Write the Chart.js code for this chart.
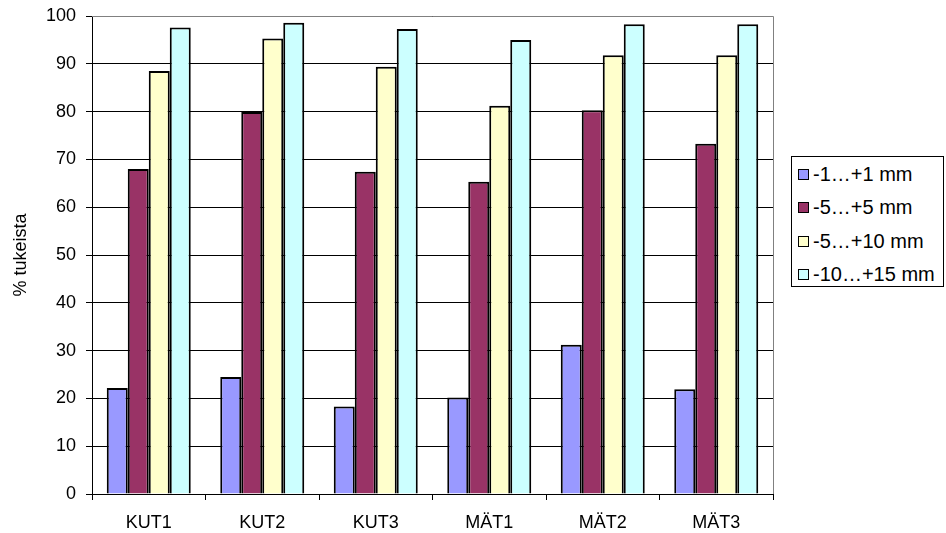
<!DOCTYPE html>
<html>
<head>
<meta charset="utf-8">
<script src="https://cdn.jsdelivr.net/npm/chart.js@4"></script>
<style>
  body { margin: 0; background: #fff; }
  #wrap { position: relative; width: 946px; height: 533px; }
  #legend {
    position: absolute; left: 791px; top: 156px; width: 153px; height: 131px;
    box-sizing: border-box; border: 1px solid #000; background: #fff;
    font-family: "Liberation Sans", Arial, sans-serif; font-size: 20px; color: #000;
    padding: 1px 0 0 6px;
  }
  .item { height: 33.3px; display: flex; align-items: center; white-space: nowrap; }
  .swatch { width: 9px; height: 9px; border: 1px solid #000; margin-right: 4px; }
</style>
</head>
<body>
<div id="wrap">
  <canvas id="chart" width="946" height="533"></canvas>
  <div id="legend"></div>
</div>
<script>
const categories = ["KUT1", "KUT2", "KUT3", "MÄT1", "MÄT2", "MÄT3"];
const seriesNames = ["-1…+1 mm", "-5…+5 mm", "-5…+10 mm", "-10…+15 mm"];
const seriesColors = ["#9999FF", "#993366", "#FFFFCC", "#CCFFFF"];

const range1 = [22.2, 24.5, 18.3, 20.2, 31.2, 21.9];
const range5 = [68.0, 79.9, 67.4, 65.3, 80.3, 73.3];
const range10 = [88.5, 95.3, 89.4, 81.2, 91.8, 91.8];
const range15 = [97.6, 98.6, 97.3, 95.0, 98.3, 98.3];

const yTicks = [0, 10, 20, 30, 40, 50, 60, 70, 80, 90, 100];

const seriesValues = [range1, range5, range10, range15];
const font = { family: "'Liberation Sans', Arial, sans-serif", size: 18 };

// gray frame on the top and right edge of the plot
const frame = {
  id: "frame",
  afterDraw(chart) {
    const { ctx, chartArea: a } = chart;
    ctx.save();
    ctx.strokeStyle = "#808080";
    ctx.lineWidth = 1;
    ctx.beginPath();
    ctx.moveTo(a.left, a.top + 0.5);
    ctx.lineTo(a.right + 0.5, a.top + 0.5);
    ctx.lineTo(a.right + 0.5, a.bottom);
    ctx.stroke();
    ctx.restore();
  },
};

new Chart(document.getElementById("chart"), {
  type: "bar",
  data: {
    labels: categories,
    datasets: seriesNames.map((name, i) => ({
      label: name,
      data: seriesValues[i],
      backgroundColor: seriesColors[i],
      borderColor: "#000",
      borderWidth: 2,
      borderSkipped: "bottom",
      barPercentage: 1,
      categoryPercentage: 0.74,
    })),
  },
  options: {
    responsive: false,
    animation: false,
    layout: { padding: { top: 16, right: 173, left: 0, bottom: 0 } },
    plugins: { legend: { display: false }, tooltip: { enabled: false } },
    scales: {
      x: {
        grid: { offset: true, drawOnChartArea: false, color: "#000", tickLength: 6 },
        border: { color: "#000" },
        ticks: { color: "#000", font, padding: 12 },
        afterFit: (s) => { s.height = 39; },
      },
      y: {
        min: 0,
        max: 100,
        afterBuildTicks: (s) => { s.ticks = yTicks.map((v) => ({ value: v })); },
        grid: { color: "#000", tickLength: 6 },
        border: { color: "#000" },
        ticks: { color: "#000", font, padding: 10 },
        title: { display: true, text: "% tukeista", color: "#000", font, padding: { top: 10, bottom: 0 } },
        afterFit: (s) => {
          s.width = 92;
          s.paddingTop = 0;
          s.paddingBottom = 0;
        },
      },
    },
  },
  plugins: [frame],
});

const legend = document.getElementById("legend");
seriesNames.forEach((name, i) => {
  const item = document.createElement("div");
  item.className = "item";
  item.innerHTML = `<span class="swatch" style="background:${seriesColors[i]}"></span>${name}`;
  legend.appendChild(item);
});
</script>
</body>
</html>
